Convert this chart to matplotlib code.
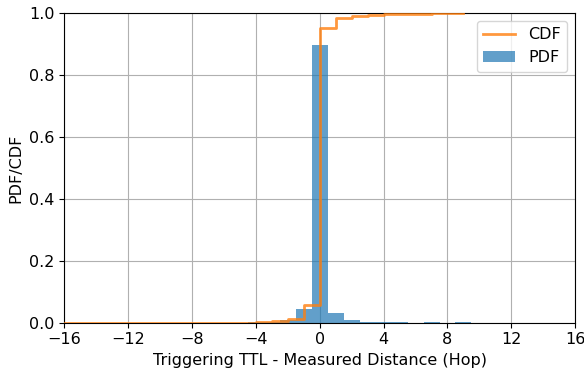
import numpy as np
import matplotlib.pyplot as plt

# TTL difference (hop) and fraction of samples
hops = [-4, -3, -2, -1, 0, 1, 2, 3, 4, 5, 6, 7, 8, 9]
pdf = [0.002, 0.003, 0.008, 0.043, 0.897, 0.030, 0.008, 0.003, 0.002, 0.002, 0.0, 0.0015, 0.0, 0.0015]

x_start = -16
cdf_x = [x_start] + hops
cdf_y = [0.0] + list(np.cumsum(pdf))

fig, ax = plt.subplots(figsize=(5.84, 3.71), dpi=100)
ax.bar(hops, pdf, width=1.0, color='C0', alpha=0.7, label='PDF', zorder=2)
ax.step(cdf_x, cdf_y, where='post', color='C1', alpha=0.8, linewidth=2, label='CDF', zorder=3)

ax.set_xlim(-16, 16)
ax.set_ylim(0, 1)
ax.set_xticks(np.arange(-16, 17, 4))
ax.set_yticks(np.arange(0, 1.01, 0.2))
ax.tick_params(labelsize=11.5)
ax.set_xlabel('Triggering TTL - Measured Distance (Hop)', fontsize=11.5)
ax.set_ylabel('PDF/CDF', fontsize=11.5)
ax.grid(True, zorder=0)
ax.set_axisbelow(True)
ax.legend(loc='upper right', fontsize=11.5)

fig.subplots_adjust(left=0.11, right=0.985, top=0.965, bottom=0.13)
fig.savefig('out.png')
